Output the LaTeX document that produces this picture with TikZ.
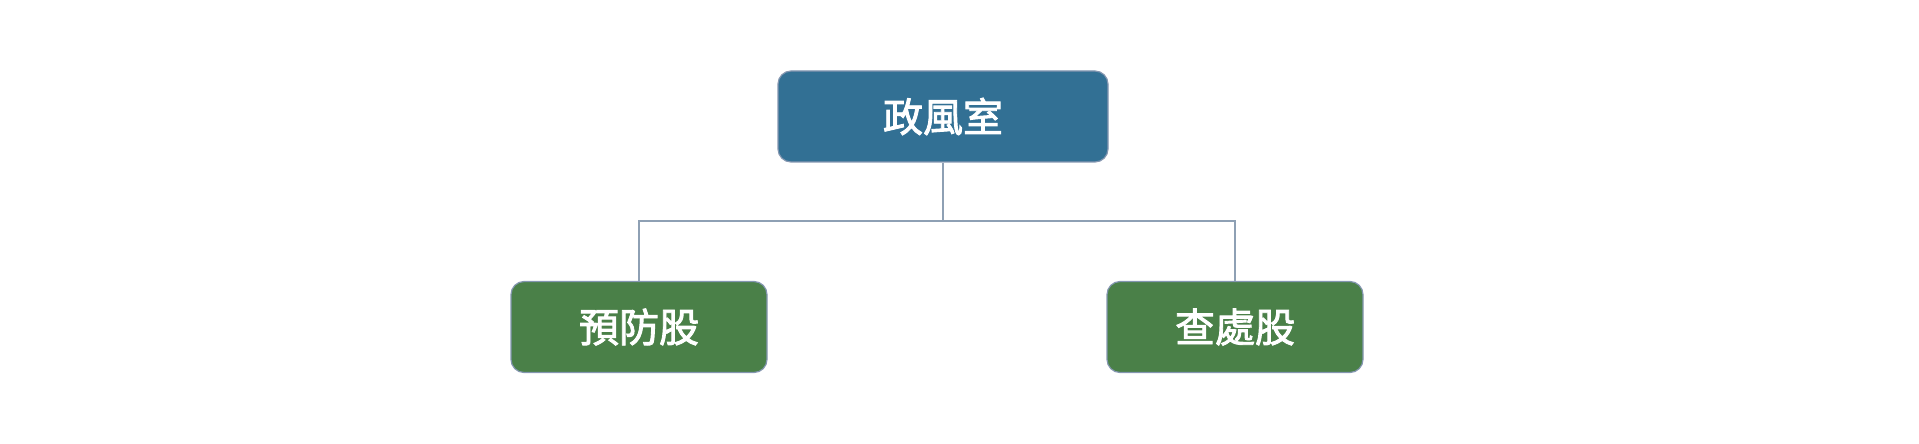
\documentclass[tikz,border=0pt]{standalone}
\usepackage{fontspec}
\newfontfamily\cjk[FakeBold=2.2]{Noto Sans CJK TC}
\usepackage{tikz}
\usetikzlibrary{positioning}
\definecolor{officeblue}{RGB}{50,112,148}
\definecolor{unitgreen}{RGB}{74,128,72}
\definecolor{edgegray}{RGB}{132,150,176}
\definecolor{linkgray}{RGB}{142,160,180}
\tikzset{
  unitbox/.style={draw=edgegray, line width=0.6pt, rounded corners=6.5pt,
    text=white, font=\cjk\fontsize{20}{24}\selectfont,
    minimum height=45.5pt, inner sep=0pt},
  link/.style={draw=linkgray, line width=0.55pt}
}

\begin{document}
\begin{tikzpicture}[x=0.5pt, y=-0.5pt]
  \useasboundingbox (0,0) rectangle (1919,444);
  \node[unitbox, fill=officeblue, minimum width=165pt] (office) at (943,116.5) {政風室};
  \node[unitbox, fill=unitgreen, minimum width=128pt] (prevent) at (639,327) {預防股};
  \node[unitbox, fill=unitgreen, minimum width=128pt] (inspect) at (1235,327) {查處股};
  \coordinate (split) at (943,221);
  \draw[link] (office.south) -- (split);
  \draw[link] (split) -| (prevent.north);
  \draw[link] (split) -| (inspect.north);
\end{tikzpicture}
\end{document}
